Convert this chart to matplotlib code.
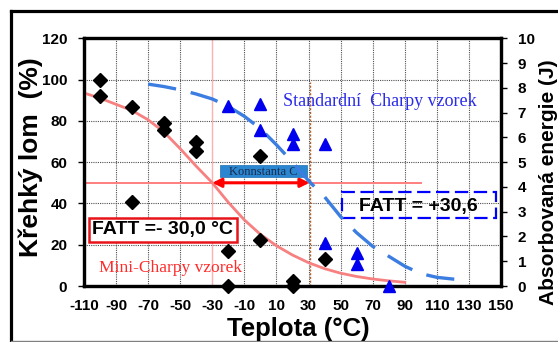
import matplotlib
matplotlib.use("Agg")
import matplotlib.pyplot as plt
from matplotlib.patches import Rectangle
from matplotlib.lines import Line2D

plt.rcParams['font.family'] = ['Liberation Sans', 'DejaVu Sans']

# ---------------- data ----------------
x_ticks = [-110, -90, -70, -50, -30, -10, 10, 30, 50, 70, 90, 110, 130, 150]
x_tick_labels = ['-110', '-90', '-70', '-50', '-30', '-10', '10', '30', '50', '70', '90', '110', '130', '150']
y_left_ticks = [0, 20, 40, 60, 80, 100, 120]
y_right_ticks = [0, 1, 2, 3, 4, 5, 6, 7, 8, 9, 10]

# Mini-Charpy measured points (brittle fracture %)
mini_temp = [-100, -100, -80, -80, -60, -60, -40, -40, -20, -20, 0, 0, 20, 20, 40]
mini_brittle = [100, 92, 86.5, 40.5, 79, 75.5, 70, 65.5, 17, 0, 63, 22.5, 2.5, 0, 13]

# Standard Charpy measured points (absorbed energy J)
std_temp = [-20, 0, 0, 20, 20, 40, 40, 60, 60, 80]
std_energy = [7.25, 7.35, 6.3, 6.15, 5.75, 5.75, 1.75, 1.35, 0.9, 0.0]

# Fitted curves
mini_curve_t = [-110, -100, -90, -80, -70, -60, -50, -40, -30, -20, -10, 0, 10, 20, 30, 40, 50, 60, 70, 80, 90]
mini_curve_v = [93.5, 91, 88, 85, 80.5, 74.5, 66.5, 58, 50, 40.5, 32, 25, 19.5, 15, 11.3, 8.4, 6.2, 4.6, 3.4, 2.5, 1.8]

std_curve_t = [-70, -60, -50, -40, -30, -20, -10, 0, 10, 20, 30, 40, 50, 60, 70, 80, 90, 100, 110, 120, 130]
std_curve_v = [8.15, 8.05, 7.92, 7.75, 7.55, 7.25, 6.85, 6.35, 5.7, 5.0, 4.25, 3.6, 2.8, 2.15, 1.6, 1.2, 0.8, 0.5, 0.35, 0.28, 0.22]

fatt_mini = -30.0
fatt_std = 30.6
half_level = 50

# ---------------- figure ----------------
fig = plt.figure(figsize=(5.58, 3.42), dpi=100)
fig.patch.set_facecolor('white')
ax = fig.add_axes([84/558, 1-286/342, 417/558, (286-38.3)/342])
ax.set_xlim(-110, 150)
ax.set_ylim(0, 120)
ax2 = ax.twinx()
ax2.set_ylim(0, 10)

# grid
ax.set_xticks(x_ticks)
ax.set_xticklabels(x_tick_labels)
ax.set_yticks(y_left_ticks)
ax.grid(True, color='#505050', linestyle=(0, (1, 1)), linewidth=0.8)
ax.set_axisbelow(True)

for a in (ax, ax2):
    for s in a.spines.values():
        s.set_linewidth(2.3)
        s.set_color('black')

ax.tick_params(axis='y', direction='out', length=4, width=1, pad=8, labelsize=11)
ax.tick_params(axis='x', length=0, pad=9, labelsize=11)
ax2.set_yticks(y_right_ticks)
ax2.tick_params(axis='y', direction='out', length=4, width=1, pad=8, labelsize=11)
for lab in ax.get_xticklabels() + ax.get_yticklabels() + ax2.get_yticklabels():
    lab.set_fontweight('bold')

# reference lines
ax.axvline(fatt_mini, color='#ffb0b0', linewidth=0.9, zorder=1)
ax.plot([-110, 100], [half_level, half_level], color='#ff7f7f', linewidth=1.4, zorder=2)
ax.plot([fatt_std, fatt_std], [0, 98.8], color='#b0602a', linestyle=(0, (1.5, 1.2)), linewidth=1.0, zorder=2)

# Mini-Charpy curve and points
ax.plot(mini_curve_t, mini_curve_v, color='#f78080', linewidth=2.0, zorder=3)
ax.plot(mini_temp, mini_brittle, linestyle='none', marker='D', markersize=7,
        color='black', zorder=6, clip_on=False)

# Standard Charpy curve and points
ax2.plot(std_curve_t, std_curve_v, color='#3b7de0', linewidth=2.4, dashes=(8.5, 4.5), zorder=3)
ax2.plot(std_temp, std_energy, linestyle='none', marker='^', markersize=8.5,
         color='#0000ee', zorder=6, clip_on=False)

# arrow between FATTs
ax.annotate('', xy=(fatt_mini, half_level), xytext=(fatt_std, half_level),
            arrowprops=dict(arrowstyle='<|-|>', color='#ff0000', lw=2.2,
                            mutation_scale=13, shrinkA=0, shrinkB=0), zorder=5)

# Konnstanta C label
ax.add_patch(Rectangle((-25.2, 52.9), 54.0, 5.7, facecolor='#2a86d0', edgecolor='#1f6fb0',
                       linewidth=0.5, zorder=4))
ax.text(1.8, 55.4, 'Konnstanta C', fontsize=9, family='Liberation Serif', color='#1a2a4a',
        ha='center', va='center', zorder=5)

# series labels
ax.text(13.9, 89.2, 'Standardní  Charpy vzorek', fontsize=13, family='Liberation Serif',
        color='#2b2bea', ha='left', va='center', zorder=5)
ax.text(-100.6, 8.6, 'Mini-Charpy vzorek', fontsize=12.6, family='Liberation Serif',
        color='#ff2b2b', ha='left', va='center', zorder=5)

# FATT boxes
ax.text(-61, 27.2, 'FATT =- 30,0 °C', fontsize=14, fontweight='bold', color='black',
        ha='center', va='center', zorder=7,
        bbox=dict(boxstyle='square,pad=0.18', facecolor='white', edgecolor='#e8141b', linewidth=1.8))
ax.add_patch(Rectangle((50.6, 33.1), 96.3, 12.5, fill=False,
                       edgecolor='#0000ff', linewidth=1.6, linestyle=(0, (6, 2.5)), zorder=6, clip_on=False))
ax.text(98.2, 38.6, 'FATT = +30,6', fontsize=14, fontweight='bold', color='black',
        ha='center', va='center', zorder=7)

# axis labels
fig.text(31/558, 1-157/342, 'Křehký lom  (%)', rotation=90, fontsize=19, fontweight='bold',
         ha='center', va='center')
fig.text(549/558, 1-182/342, 'Absorbovaná energie (J)', rotation=90, fontsize=15, fontweight='bold',
         ha='center', va='center')
fig.text(298/558, 1-336/342, 'Teplota (°C)', fontsize=18.5, fontweight='bold',
         ha='center', va='baseline')

# outer frame
fig.add_artist(Line2D([11/558, 11/558], [0, 1-10.5/342], transform=fig.transFigure, color='black', linewidth=2.3))
fig.add_artist(Line2D([11/558, 1], [1-10.5/342, 1-10.5/342], transform=fig.transFigure, color='black', linewidth=2.3))
fig.add_artist(Line2D([11/558, 1], [1.5/342, 1.5/342], transform=fig.transFigure, color='#808080', linewidth=1))

fig.savefig('out.png', dpi=100)
